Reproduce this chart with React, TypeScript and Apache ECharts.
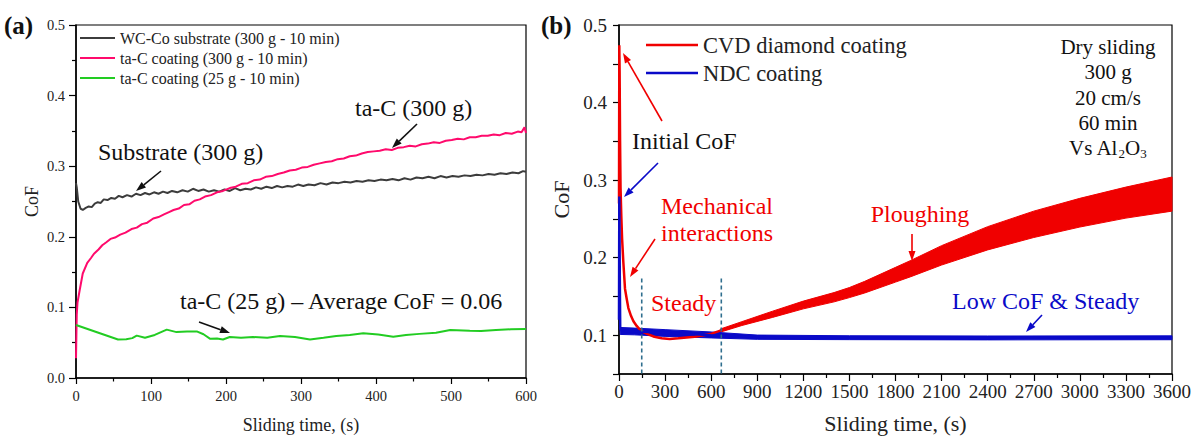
import React, { useEffect, useRef } from "react";
import * as echarts from "echarts";

// ---------- Panel (a) data ----------
const subT = [0, 1, 3, 6, 9, 13, 17, 21, 25, 29, 33, 37, 42, 47, 52, 57, 62, 68, 74, 80, 86, 92, 98, 104, 110, 116, 122, 128, 135, 142, 149, 156, 163, 170, 177, 184, 191, 198, 205, 212, 219, 226, 233, 240, 247, 254, 261, 268, 275, 282, 289, 296, 303, 310, 318, 326, 334, 342, 350, 358, 366, 374, 382, 390, 398, 406, 414, 422, 430, 438, 446, 454, 462, 470, 478, 486, 494, 502, 510, 518, 526, 534, 542, 550, 558, 566, 574, 582, 590, 596, 600];
const subV = [0.276, 0.27, 0.25, 0.240, 0.238, 0.241, 0.243, 0.242, 0.247, 0.249, 0.248, 0.253, 0.252, 0.255, 0.254, 0.258, 0.256, 0.259, 0.257, 0.261, 0.259, 0.262, 0.260, 0.263, 0.261, 0.264, 0.262, 0.265, 0.263, 0.266, 0.264, 0.268, 0.265, 0.267, 0.264, 0.266, 0.264, 0.267, 0.265, 0.269, 0.266, 0.268, 0.267, 0.270, 0.268, 0.271, 0.269, 0.272, 0.270, 0.272, 0.271, 0.274, 0.272, 0.274, 0.273, 0.276, 0.274, 0.277, 0.276, 0.278, 0.277, 0.279, 0.278, 0.280, 0.279, 0.281, 0.280, 0.282, 0.280, 0.283, 0.281, 0.284, 0.283, 0.285, 0.283, 0.286, 0.284, 0.286, 0.285, 0.287, 0.286, 0.288, 0.287, 0.289, 0.288, 0.290, 0.289, 0.291, 0.290, 0.293, 0.292];
const tacT = [0, 1, 2, 5, 9, 15, 20, 24, 30, 35, 40, 46, 52, 59, 66, 74, 81, 88, 95, 103, 110, 118, 124, 130, 137, 144, 151, 158, 165, 172, 180, 188, 196, 205, 213, 221, 229, 237, 245, 253, 261, 269, 277, 285, 293, 301, 309, 317, 325, 333, 341, 349, 357, 365, 373, 381, 389, 397, 405, 413, 421, 429, 437, 445, 453, 461, 469, 477, 485, 493, 501, 509, 517, 525, 533, 541, 549, 557, 565, 573, 581, 589, 594, 598, 600];
const tacV = [0.028, 0.09, 0.107, 0.125, 0.148, 0.163, 0.170, 0.176, 0.182, 0.188, 0.192, 0.197, 0.199, 0.203, 0.206, 0.211, 0.213, 0.218, 0.220, 0.226, 0.228, 0.232, 0.235, 0.238, 0.240, 0.245, 0.246, 0.251, 0.253, 0.257, 0.259, 0.263, 0.265, 0.269, 0.271, 0.275, 0.276, 0.280, 0.281, 0.285, 0.286, 0.289, 0.291, 0.294, 0.295, 0.298, 0.299, 0.302, 0.304, 0.306, 0.307, 0.310, 0.311, 0.314, 0.315, 0.318, 0.320, 0.321, 0.322, 0.324, 0.323, 0.326, 0.327, 0.329, 0.328, 0.331, 0.332, 0.334, 0.333, 0.336, 0.337, 0.339, 0.338, 0.341, 0.341, 0.343, 0.343, 0.345, 0.344, 0.347, 0.346, 0.349, 0.348, 0.355, 0.347];
const grnT = [0, 56, 67, 75, 81, 92, 105, 121, 134, 148, 161, 170, 179, 188, 196, 205, 220, 236, 255, 272, 292, 312, 330, 347, 365, 383, 403, 423, 440, 458, 480, 499, 525, 540, 560, 580, 600];
const grnV = [0.075, 0.0545, 0.055, 0.0565, 0.060, 0.057, 0.061, 0.0685, 0.065, 0.066, 0.066, 0.062, 0.0555, 0.056, 0.0545, 0.058, 0.057, 0.058, 0.057, 0.0595, 0.058, 0.0545, 0.057, 0.0595, 0.061, 0.0635, 0.0615, 0.0585, 0.061, 0.0625, 0.064, 0.068, 0.067, 0.0665, 0.068, 0.069, 0.0695];

// ---------- Panel (b) data ----------
const redT = [0, 2, 4, 7, 10, 15, 20, 28, 39, 50, 61, 78, 94, 115, 137, 160, 191, 230, 278, 330, 386, 440, 493, 550, 603, 660, 712, 800, 1000, 1200, 1400, 1500, 1600, 1800, 1900, 2100, 2400, 2700, 3000, 3300, 3600];
const redV = [0.27, 0.474, 0.44, 0.35, 0.29, 0.254, 0.225, 0.195, 0.16, 0.147, 0.135, 0.125, 0.118, 0.112, 0.107, 0.104, 0.101, 0.098, 0.096, 0.095, 0.096, 0.097, 0.098, 0.100, 0.102, 0.106, 0.109, 0.115, 0.127, 0.139, 0.149, 0.155, 0.162, 0.178, 0.186, 0.203, 0.225, 0.243, 0.258, 0.271, 0.282];
const redBandT = [660, 800, 1000, 1200, 1400, 1500, 1600, 1800, 1900, 2100, 2400, 2700, 3000, 3300, 3600];
const redLow = [0.104, 0.1125, 0.123, 0.134, 0.143, 0.1485, 0.1545, 0.1685, 0.1755, 0.1905, 0.210, 0.226, 0.2395, 0.251, 0.260];
const redHigh = [0.108, 0.1175, 0.131, 0.144, 0.155, 0.1615, 0.1695, 0.1875, 0.1965, 0.2155, 0.240, 0.260, 0.2765, 0.291, 0.304];
const blueT = [0, 2, 5, 8, 15, 30, 60, 100, 150, 200, 300, 400, 523, 600, 700, 957, 1200, 1500, 1826, 2100, 2400, 2692, 3000, 3300, 3600];
const blueV = [0.12, 0.279, 0.18, 0.108, 0.106, 0.106, 0.1055, 0.105, 0.1045, 0.104, 0.103, 0.102, 0.101, 0.100, 0.099, 0.0975, 0.097, 0.0968, 0.0965, 0.0965, 0.0965, 0.097, 0.0965, 0.0965, 0.0965];
const blueBandT = [8, 100, 300, 600, 900, 1500, 2400, 3600];
const blueLow = [0.101, 0.1005, 0.0985, 0.0965, 0.0947, 0.0943, 0.094, 0.0942];
const blueHigh = [0.110, 0.1092, 0.1072, 0.1042, 0.1002, 0.0993, 0.099, 0.0992];
const steadyBounds = [148, 666];
const steadyTop = 0.173;
const steadyBottom = 0.05;

const FONT = "'Liberation Serif', 'Times New Roman', serif";
const RED = "#f00000";
const BLUE = "#0a0ac8";

const zip = (t: number[], v: number[]) => t.map((x, i) => [x, v[i]]);

function arrow(x1: number, y1: number, x2: number, y2: number, color: string) {
  const dx = x2 - x1, dy = y2 - y1;
  const len = Math.hypot(dx, dy);
  const ux = dx / len, uy = dy / len;
  const L = 10, W = 7;
  const bx = x2 - ux * L, by = y2 - uy * L;
  const nx = -uy, ny = ux;
  return [
    { type: "line", shape: { x1, y1, x2: bx, y2: by }, style: { stroke: color, lineWidth: 1.6 } },
    {
      type: "polygon",
      shape: { points: [[x2, y2], [bx + (nx * W) / 2, by + (ny * W) / 2], [bx - (nx * W) / 2, by - (ny * W) / 2]] },
      style: { fill: color },
    },
  ];
}

function txt(text: string, x: number, y: number, size: number, color: string, align = "left", weight = "normal") {
  return {
    type: "text",
    x,
    y,
    style: { text, fontSize: size, fontFamily: FONT, fontWeight: weight, fill: color, align, verticalAlign: "middle" },
  };
}

function bandSeries(name: string, t: number[], lo: number[], hi: number[], color: string) {
  return {
    type: "custom",
    name,
    xAxisIndex: 1,
    yAxisIndex: 1,
    silent: true,
    data: t.map((x, i) => [x, lo[i], hi[i]]),
    encode: { x: 0, y: [1, 2] },
    renderItem: (params: any, api: any) => {
      if (params.dataIndex !== 0) return null;
      const top = t.map((x, i) => api.coord([x, hi[i]]));
      const bot = t.map((x, i) => api.coord([x, lo[i]])).reverse();
      return {
        type: "polygon",
        shape: { points: top.concat(bot) },
        style: { fill: color, stroke: color, lineWidth: 1 },
      };
    },
  };
}

export default function App() {
  const ref = useRef<HTMLDivElement>(null);
  useEffect(() => {
    if (!ref.current) return;
    const chart = echarts.init(ref.current, null, { renderer: "svg" });
    const axisLine = { show: true, lineStyle: { color: "#000", width: 1.5 } };
    const lineBase = { type: "line", symbol: "none", showSymbol: false, silent: true };

    const option: any = {
      animation: false,
      backgroundColor: "#fff",
      grid: [
        { left: 76, top: 25, width: 450, height: 358, show: true, borderColor: "#000", borderWidth: 1.2, containLabel: false },
        { left: 619, top: 25, width: 554, height: 351, show: true, borderColor: "#000", borderWidth: 1.2, containLabel: false },
      ],
      xAxis: [
        {
          gridIndex: 0, type: "value", min: 0, max: 600, interval: 100,
          axisLine, splitLine: { show: false },
          axisTick: { show: true, length: 6, lineStyle: { color: "#000", width: 1.2 } },
          minorTick: { show: true, splitNumber: 2, length: 3.5, lineStyle: { color: "#000", width: 1.2 } },
          axisLabel: { fontSize: 14.5, fontFamily: FONT, color: "#222", margin: 10, formatter: (v: number) => String(v) },
          name: "Sliding time, (s)", nameLocation: "middle", nameGap: 38,
          nameTextStyle: { fontSize: 18, fontFamily: FONT, color: "#222" },
        },
        {
          gridIndex: 1, type: "value", min: 0, max: 3600, interval: 300,
          axisLine, splitLine: { show: false },
          axisTick: { show: true, length: 7, lineStyle: { color: "#000", width: 1.2 } },
          minorTick: { show: true, splitNumber: 2, length: 4, lineStyle: { color: "#000", width: 1.2 } },
          axisLabel: { fontSize: 19, fontFamily: FONT, color: "#222", margin: 8, formatter: (v: number) => String(v) },
          name: "Sliding time, (s)", nameLocation: "middle", nameGap: 38,
          nameTextStyle: { fontSize: 22, fontFamily: FONT, color: "#222" },
        },
      ],
      yAxis: [
        {
          gridIndex: 0, type: "value", min: 0, max: 0.5, interval: 0.1,
          axisLine, splitLine: { show: false },
          axisTick: { show: true, length: 7, lineStyle: { color: "#000", width: 1.2 } },
          minorTick: { show: true, splitNumber: 2, length: 4, lineStyle: { color: "#000", width: 1.2 } },
          axisLabel: { fontSize: 14.5, fontFamily: FONT, color: "#222", margin: 11, formatter: (v: number) => v.toFixed(1) },
          name: "CoF", nameLocation: "middle", nameGap: 35,
          nameTextStyle: { fontSize: 18, fontFamily: FONT, color: "#222" },
        },
        {
          gridIndex: 1, type: "value", min: 0.05, max: 0.5, interval: 0.05,
          axisLine, splitLine: { show: false },
          axisTick: { show: true, length: 6, lineStyle: { color: "#000", width: 1.2 } },
          axisLabel: {
            fontSize: 19, fontFamily: FONT, color: "#222", margin: 12,
            formatter: (v: number) => (Math.round(v * 100) % 10 === 0 ? v.toFixed(1) : ""),
          },
          name: "CoF", nameLocation: "middle", nameGap: 47,
          nameTextStyle: { fontSize: 22, fontFamily: FONT, color: "#222" },
        },
      ],
      legend: [
        {
          data: ["WC-Co substrate (300 g - 10 min)", "ta-C coating (300 g - 10 min)", "ta-C coating (25 g - 10 min)"],
          orient: "vertical", left: 80, top: 28, padding: 0, itemGap: 0,
          itemWidth: 35, itemHeight: 2, icon: "rect",
          textStyle: { fontSize: 16, lineHeight: 20, fontFamily: FONT, color: "#222" },
        },
        {
          data: ["CVD diamond coating", "NDC coating"],
          orient: "vertical", left: 646, top: 31, padding: 0, itemGap: 0,
          itemWidth: 52, itemHeight: 2.5, icon: "rect",
          textStyle: { fontSize: 22.5, lineHeight: 28, fontFamily: FONT, color: "#222" },
        },
      ],
      series: [
        { ...lineBase, name: "WC-Co substrate (300 g - 10 min)", xAxisIndex: 0, yAxisIndex: 0, data: zip(subT, subV),
          itemStyle: { color: "#3c3c3c" }, lineStyle: { color: "#3c3c3c", width: 2 } },
        { ...lineBase, name: "ta-C coating (300 g - 10 min)", xAxisIndex: 0, yAxisIndex: 0, data: zip(tacT, tacV),
          itemStyle: { color: "#ff0a6c" }, lineStyle: { color: "#ff0a6c", width: 2 } },
        { ...lineBase, name: "ta-C coating (25 g - 10 min)", xAxisIndex: 0, yAxisIndex: 0, data: zip(grnT, grnV),
          itemStyle: { color: "#22cc22" }, lineStyle: { color: "#22cc22", width: 2 } },

        bandSeries("_redBand", redBandT, redLow, redHigh, RED),
        { ...lineBase, name: "CVD diamond coating", xAxisIndex: 1, yAxisIndex: 1, data: zip(redT, redV),
          itemStyle: { color: RED }, lineStyle: { color: RED, width: 2.5 } },

        bandSeries("_blueBand", blueBandT, blueLow, blueHigh, BLUE),
        { ...lineBase, name: "NDC coating", xAxisIndex: 1, yAxisIndex: 1, data: zip(blueT, blueV),
          itemStyle: { color: BLUE }, lineStyle: { color: BLUE, width: 2.5 } },

        ...steadyBounds.map((t, i) => ({
          ...lineBase, name: "_steady" + i, xAxisIndex: 1, yAxisIndex: 1, z: 5,
          data: [[t, steadyTop], [t, steadyBottom]],
          lineStyle: { color: "#2f6e8e", width: 1.6, type: [4, 3] },
        })),
      ],
      graphic: {
        elements: [
          txt("(a)", 4, 25, 25, "#111", "left", "bold"),
          txt("Substrate (300 g)", 98, 152, 24, "#111"),
          ...arrow(161, 171, 136, 191, "#111"),
          txt("ta-C (300 g)", 355, 108, 24, "#111"),
          ...arrow(417, 124, 392, 148, "#111"),
          txt("ta-C (25 g) \u2013 Average CoF = 0.06", 180, 301, 24, "#111"),
          ...arrow(199, 322, 230, 333, "#111"),

          txt("(b)", 541, 25, 25, "#111", "left", "bold"),
          txt("Initial CoF", 632, 141, 24, "#111"),
          ...arrow(662, 121, 623, 53, RED),
          ...arrow(658, 163, 624, 197, BLUE),
          txt("Mechanical", 717, 206, 24, RED, "center"),
          txt("interactions", 717, 233, 24, RED, "center"),
          ...arrow(655, 239, 630, 277, RED),
          txt("Steady", 651, 303, 24, RED),
          txt("Ploughing", 920, 214, 24, RED, "center"),
          ...arrow(912, 234, 912, 261, RED),
          txt("Low CoF & Steady", 952, 301, 24, BLUE),
          ...arrow(1042, 315, 1026, 332, BLUE),

          txt("Dry sliding", 1108, 47, 21, "#111", "center"),
          txt("300 g", 1108, 72, 21, "#111", "center"),
          txt("20 cm/s", 1108, 98, 21, "#111", "center"),
          txt("60 min", 1108, 123, 21, "#111", "center"),
          txt("Vs Al", 1069, 148, 21, "#111"),
          txt("2", 1118.6, 153, 13, "#111"),
          txt("O", 1125.1, 148, 21, "#111"),
          txt("3", 1140.3, 153, 13, "#111"),
        ],
      },
    };
    chart.setOption(option);
    return () => chart.dispose();
  }, []);

  return <div ref={ref} style={{ position: "absolute", left: 0, top: 0, width: 1194, height: 439 }} />;
}
